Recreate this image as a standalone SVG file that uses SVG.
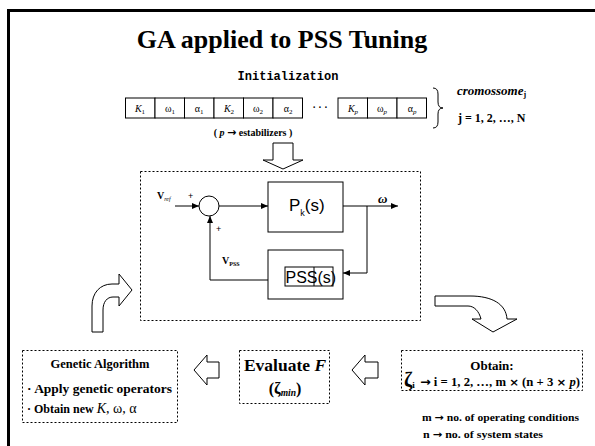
<svg xmlns="http://www.w3.org/2000/svg" width="595" height="446" viewBox="0 0 595 446">
<style>
.ser{font-family:"Liberation Serif","Times New Roman",serif}
.sans{font-family:"Liberation Sans",Arial,sans-serif}
.arr{font-family:"DejaVu Sans",sans-serif;font-weight:bold}
.b{font-weight:bold}
.i{font-style:italic}
.cell{fill:#fff;stroke:#000;stroke-width:1}
.ln{fill:none;stroke:#000;stroke-width:1}
.dot{fill:none;stroke:#000;stroke-width:1;stroke-dasharray:2,2}
.hol{fill:#fff;stroke:#000;stroke-width:1}
.ct{font-family:"Liberation Serif","Times New Roman",serif;font-size:10px;text-anchor:middle}
</style>
<defs>
<marker id="ah" markerWidth="8" markerHeight="6" refX="7" refY="3" orient="auto" markerUnits="userSpaceOnUse">
<path d="M0,0 L7,3 L0,6 Z" fill="#000"/>
</marker>
</defs>
<rect width="595" height="446" fill="#fff"/>
<path d="M8.5,446 L8.5,10.5 L595,10.5" fill="none" stroke="#000" stroke-width="3"/>
<text x="282" y="48" class="ser b" font-size="26" text-anchor="middle">GA applied to PSS Tuning</text>

<g id="chromosome">
<text x="288" y="80" font-family="'Liberation Mono','Courier New',monospace" font-weight="bold" font-size="12" text-anchor="middle">Initialization</text>
<rect class="cell" x="125.5" y="98" width="29.5" height="20"/>
<rect class="cell" x="155" y="98" width="29.5" height="20"/>
<rect class="cell" x="184.5" y="98" width="29.5" height="20"/>
<rect class="cell" x="214" y="98" width="29.5" height="20"/>
<rect class="cell" x="243.5" y="98" width="29.5" height="20"/>
<rect class="cell" x="273" y="98" width="29.5" height="20"/>
<rect class="cell" x="338" y="98" width="29.5" height="20"/>
<rect class="cell" x="367.5" y="98" width="29.5" height="20"/>
<rect class="cell" x="397" y="98" width="29.5" height="20"/>
<text class="ct" x="140" y="111.5"><tspan font-style="italic">K</tspan><tspan font-size="7" dy="2">1</tspan></text>
<text class="ct" x="170" y="111.5">ω<tspan font-size="7" dy="2">1</tspan></text>
<text class="ct" x="199" y="111.5">α<tspan font-size="7" dy="2">1</tspan></text>
<text class="ct" x="229" y="111.5"><tspan font-style="italic">K</tspan><tspan font-size="7" dy="2">2</tspan></text>
<text class="ct" x="258" y="111.5">ω<tspan font-size="7" dy="2">2</tspan></text>
<text class="ct" x="288" y="111.5">α<tspan font-size="7" dy="2">2</tspan></text>
<text x="320" y="111" class="ser b" font-size="10" text-anchor="middle">·  ·  ·</text>
<text class="ct" x="353" y="111.5"><tspan font-style="italic">K</tspan><tspan font-size="7" dy="2" font-style="italic">p</tspan></text>
<text class="ct" x="382" y="111.5">ω<tspan font-size="7" dy="2" font-style="italic">p</tspan></text>
<text class="ct" x="412" y="111.5">α<tspan font-size="7" dy="2" font-style="italic">p</tspan></text>
<path class="ln" d="M433,88 Q438,88 438,94 L438,102 Q438,108 443,108 Q438,108 438,114 L438,122 Q438,128 433,128"/>
<text x="457" y="95" class="ser b i" font-size="13">cromossome<tspan font-size="8" dy="2" font-style="normal">j</tspan></text>
<text x="458" y="122" class="ser b" font-size="12">j = 1, 2, …, N</text>
<text x="253" y="136" class="ser b" font-size="10" text-anchor="middle">( <tspan font-style="italic">p</tspan> <tspan class="arr" font-size="11">→</tspan> estabilizers )</text>
</g>

<g id="arrows-hollow">
<polygon class="hol" points="273,143 293,143 293,160 303,160 283,169 263,160 273,160"/>
<polygon class="hol" points="194,370 207,355 207,362 219,362 219,378 207,378 207,385"/>
<polygon class="hol" points="352,370 365,355 365,362 378,362 378,378 365,378 365,385"/>
<path class="hol" d="M92,332 L92,306 C92,293 100,284 112,284 L119,284 L119,274 L132,290 L119,306 L119,297 L113,297 C107,297 103,302 103,310 L103,332 Z"/>
<path class="hol" d="M435,296 L470,296 C492,296 506,304 507,319 L517,319 L493,332 L472,319 L481,319 C479,311 474,306 468,306 L435,306 Z"/>
</g>

<g id="plant-loop">
<rect class="dot" x="140.5" y="171.5" width="280" height="149"/>
<g id="sum">
<circle cx="209" cy="206" r="10" fill="#fff" stroke="#000"/>
</g>
<g id="pk">
<rect class="cell" x="268" y="182" width="75" height="50"/>
<text x="289" y="211" class="sans" font-size="17">P<tspan font-size="9" dy="5">k</tspan><tspan dy="-5">(s)</tspan></text>
</g>
<g id="pss">
<rect class="cell" x="268" y="250" width="75" height="49"/>
<rect class="ln" x="285" y="267" width="48" height="19"/>
<line class="ln" x1="314" y1="267" x2="314" y2="286"/>
<text x="285.5" y="283" class="sans" font-size="16">PSS(s)</text>
</g>
<text x="157" y="199" class="ser b" font-size="10">V<tspan font-size="6" dy="2" font-style="italic" font-weight="normal">ref</tspan></text>
<text x="188" y="199" class="sans" font-size="9">+</text>
<text x="216" y="232" class="sans" font-size="9">+</text>
<text x="378" y="203" class="ser b i" font-size="13">ω</text>
<text x="222" y="264" class="ser b" font-size="10">V<tspan font-size="6" dy="2">PSS</tspan></text>
</g>

<g id="connectors">
<line class="ln" x1="175" y1="206" x2="199" y2="206" marker-end="url(#ah)"/>
<line class="ln" x1="219" y1="206" x2="268" y2="206" marker-end="url(#ah)"/>
<line class="ln" x1="343" y1="206" x2="398" y2="206" marker-end="url(#ah)"/>
<polyline class="ln" points="367,206 367,273 343,273" marker-end="url(#ah)"/>
<polyline class="ln" points="268,280 210,280 210,216" marker-end="url(#ah)"/>
</g>

<g id="ga">
<rect class="dot" x="22.5" y="350.5" width="155" height="72"/>
<text x="100" y="368" class="ser b" font-size="12.5" text-anchor="middle">Genetic Algorithm</text>
<text x="27" y="393" class="ser b" font-size="12" textLength="145" lengthAdjust="spacingAndGlyphs">· Apply genetic operators</text>
<text x="27" y="413" class="ser b" font-size="12">· Obtain new  <tspan font-weight="normal" font-size="14" font-style="italic">K</tspan><tspan font-weight="normal" font-size="14">, ω, α</tspan></text>
</g>

<g id="evaluate">
<rect class="dot" x="239.5" y="350.5" width="90" height="53"/>
<text x="285" y="371" class="ser b" font-size="17.5" text-anchor="middle">Evaluate <tspan font-style="italic">F</tspan></text>
<text x="285" y="394" class="ser b" font-size="16" text-anchor="middle">(ζ<tspan font-size="9.5" dy="2" font-style="italic">min</tspan><tspan dy="-2">)</tspan></text>
</g>

<g id="obtain">
<rect class="dot" x="401.5" y="350.5" width="181" height="40"/>
<text x="492" y="370" class="ser b" font-size="13" text-anchor="middle">Obtain:</text>
<text x="404" y="387" class="ser b" font-size="20">ζ<tspan font-size="9" dy="1">i</tspan></text>
<text x="420" y="386" class="ser b" font-size="12" textLength="160" lengthAdjust="spacingAndGlyphs"><tspan class="arr" font-size="12">→</tspan> i = 1, 2, …, m <tspan class="arr" font-size="11">×</tspan> (n + 3 <tspan class="arr" font-size="11">×</tspan> <tspan font-style="italic">p</tspan>)</text>
<text x="422" y="421" class="ser b" font-size="10.5" textLength="157" lengthAdjust="spacingAndGlyphs">m <tspan class="arr" font-size="10">→</tspan> no. of operating conditions</text>
<text x="423" y="438" class="ser b" font-size="10.5" textLength="120" lengthAdjust="spacingAndGlyphs">n  <tspan class="arr" font-size="10">→</tspan> no. of system states</text>
</g>
</svg>
